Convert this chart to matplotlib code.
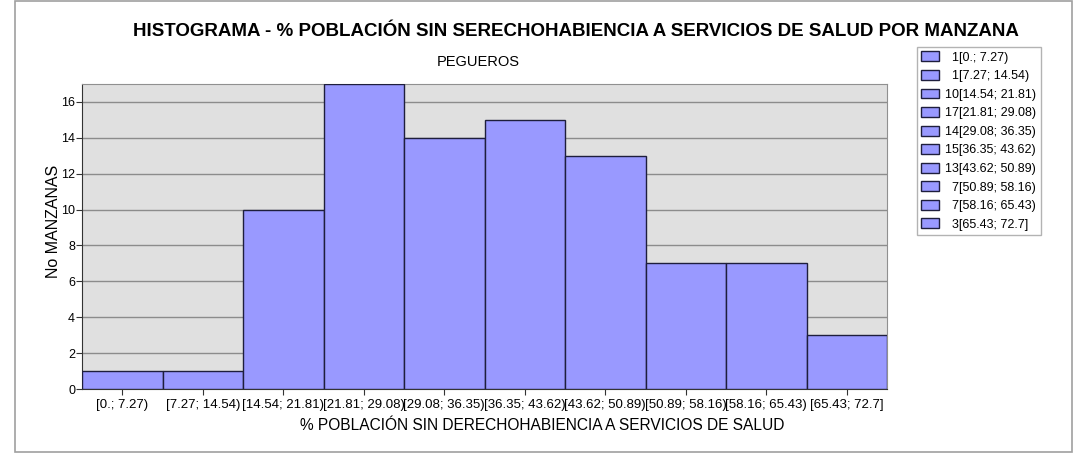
import matplotlib.pyplot as plt
from matplotlib.patches import Rectangle, Patch

plt.rcParams['font.family'] = ['Liberation Sans', 'DejaVu Sans']

# Histogram data
counts = [1, 1, 10, 17, 14, 15, 13, 7, 7, 3]
intervals = ['[0.; 7.27)', '[7.27; 14.54)', '[14.54; 21.81)', '[21.81; 29.08)',
             '[29.08; 36.35)', '[36.35; 43.62)', '[43.62; 50.89)',
             '[50.89; 58.16)', '[58.16; 65.43)', '[65.43; 72.7]']
yticks = [0, 2, 4, 6, 8, 10, 12, 14, 16]

bar_color = '#9999FF'
edge_color = '#1E1E3C'

fig = plt.figure(figsize=(10.78, 4.58), dpi=100)

# Outer frame around the whole chart
fig.patches.append(Rectangle((15 / 1078, 6 / 458), 1057 / 1078, 451 / 458,
                             transform=fig.transFigure, fill=False,
                             edgecolor='#A0A0A0', linewidth=1.2))

ax = fig.add_axes([82 / 1078, 69 / 458, 805 / 1078, 305 / 458])
ax.set_facecolor('#E0E0E0')

positions = range(len(counts))
ax.bar(positions, counts, width=1.0, align='edge', color=bar_color,
       edgecolor=edge_color, linewidth=1.0, zorder=3)

ax.set_xlim(0, len(counts))
ax.set_ylim(0, 17)

# Horizontal grid lines
ax.set_yticks(yticks)
ax.yaxis.grid(True, color='#8C8C8C', linewidth=1.0, zorder=1)
ax.set_axisbelow(True)

ax.set_xticks([p + 0.5 for p in positions])
ax.set_xticklabels(intervals, fontsize=9.5)
ax.tick_params(axis='y', labelsize=9, length=4, color='#333333', pad=1)
ax.tick_params(axis='x', length=4, color='#333333', pad=3)

for side in ['top', 'right']:
    ax.spines[side].set_color('#909090')
for side in ['left', 'bottom']:
    ax.spines[side].set_color('#333333')

# Titles and axis labels
fig.text(576 / 1078, 1 - 32 / 458,
         'HISTOGRAMA - % POBLACIÓN SIN SERECHOHABIENCIA A SERVICIOS DE SALUD POR MANZANA',
         ha='center', va='center', fontsize=13.5, fontweight='bold')
fig.text(478 / 1078, 1 - 62 / 458, 'PEGUEROS', ha='center', va='center', fontsize=10.5)
fig.text(542 / 1078, 1 - 425 / 458,
         '% POBLACIÓN SIN DERECHOHABIENCIA A SERVICIOS DE SALUD',
         ha='center', va='center', fontsize=11.2)
fig.text(54 / 1078, 1 - 221 / 458, 'No MANZANAS', rotation=90,
         ha='center', va='center', fontsize=11.5)

# Legend with count + interval
handles = [Patch(facecolor=bar_color, edgecolor=edge_color, linewidth=1.0)
           for _ in counts]
labels = [('  ' if c < 10 else '') + f'{c}{iv}' for c, iv in zip(counts, intervals)]
leg = fig.legend(handles, labels, loc='upper left',
                 bbox_to_anchor=(917 / 1078, 1 - 47 / 458),
                 fontsize=9, frameon=True, fancybox=False,
                 handlelength=1.4, handleheight=0.85, handletextpad=0.5,
                 labelspacing=0.5, borderpad=0.35, borderaxespad=0)
leg.get_frame().set_edgecolor('#A0A0A0')
leg.get_frame().set_linewidth(1.0)

fig.savefig('out.png', dpi=100)
